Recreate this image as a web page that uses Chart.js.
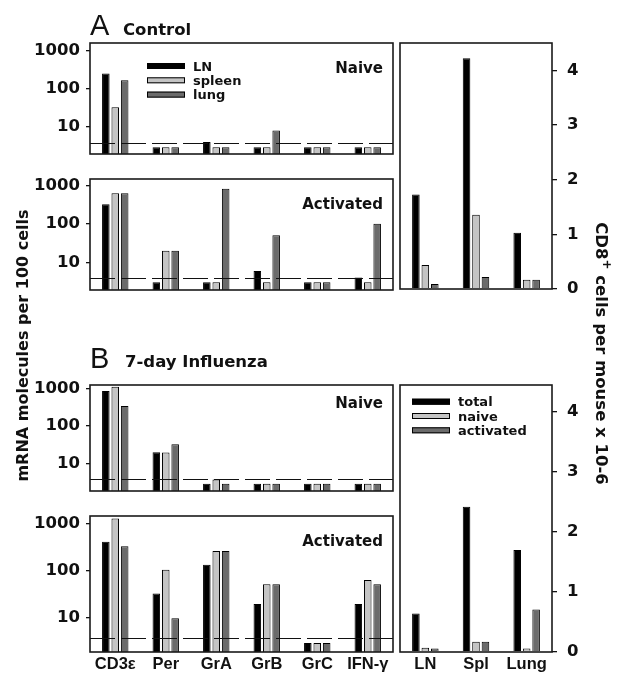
<!DOCTYPE html>
<html><head><meta charset="utf-8">
<script src="https://cdn.jsdelivr.net/npm/chart.js@4.4.0/dist/chart.umd.min.js"></script>
<style>
html,body{margin:0;padding:0;background:#fff;}
#wrap{position:relative;width:617px;height:677px;overflow:hidden;background:#fff;}
canvas{position:absolute;left:0;top:0;}
</style></head><body><div id="wrap">
<canvas id="c1" width="617" height="677"></canvas>
<canvas id="c2" width="617" height="677"></canvas>
<canvas id="c3" width="617" height="677"></canvas>
<canvas id="c4" width="617" height="677"></canvas>
<canvas id="c5" width="617" height="677"></canvas>
<canvas id="c6" width="617" height="677"></canvas>
</div>
<script>
// ---------- data ----------
const genes = ['CD3ε', 'Per', 'GrA', 'GrB', 'GrC', 'IFN-γ'];
const tissues = ['LN', 'Spl', 'Lung'];
const mrnaSeries = ['LN', 'spleen', 'lung'];
const cellSeries = ['total', 'naive', 'activated'];

// A: Control, mRNA molecules per 100 cells
const ctrlNaiveLN     = [250, 3, 4.1, 3, 3, 3];
const ctrlNaiveSpleen = [33, 3, 3, 3, 3, 3];
const ctrlNaiveLung   = [165, 3, 3, 8.2, 3, 3];
const ctrlActLN       = [320, 3, 3, 5.9, 3, 4];
const ctrlActSpleen   = [620, 20, 3, 3, 3, 3];
const ctrlActLung     = [620, 20, 810, 50, 3, 100];
// B: 7-day Influenza
const fluNaiveLN      = [850, 20.5, 3, 3, 3, 3];
const fluNaiveSpleen  = [1090, 20, 3.9, 3, 3, 3];
const fluNaiveLung    = [340, 33, 3, 3, 3, 3];
const fluActLN        = [410, 33, 134, 20, 3, 20];
const fluActSpleen    = [1270, 105, 260, 52, 3, 64];
const fluActLung      = [330, 10, 260, 52, 3, 52];
// CD8+ cells per mouse x 10-6
const ctrlCellsTotal  = [1.73, 4.22, 1.03];
const ctrlCellsNaive  = [0.44, 1.36, 0.17];
const ctrlCellsAct    = [0.09, 0.22, 0.17];
const fluCellsTotal   = [0.64, 2.42, 1.70];
const fluCellsNaive   = [0.07, 0.17, 0.06];
const fluCellsAct     = [0.06, 0.17, 0.71];

const logTicks = [10, 100, 1000];
const cellTicks = [0, 1, 2, 3, 4];
const detectionLimit = 3.9;

// ---------- styling ----------
const W = 617, H = 677;
const barColors = ['#000000', '#c4c4c4', '#6b6b6b'];
const FONT_TICK = {family: 'DejaVu Sans', weight: 'bold', size: 16.5};
const FONT_CAT = {family: 'Liberation Sans', weight: 'bold', size: 16.5};

const panelCfg = {};

const panelPlugin = {
  id: 'panelDeco',
  afterDatasetsDraw(chart) {
    const cfg = panelCfg[chart.canvas.id] || {};
    const ctx = chart.ctx, a = chart.chartArea;
    ctx.save();
    if (cfg.dash) {
      const y = Math.round(chart.scales.y.getPixelForValue(cfg.dash)) + 0.5;
      ctx.beginPath();
      ctx.setLineDash([25, 6]);
      ctx.lineWidth = 1.2;
      ctx.strokeStyle = '#111';
      ctx.moveTo(a.left, y); ctx.lineTo(a.right, y);
      ctx.stroke();
      ctx.setLineDash([]);
    }
    ctx.lineWidth = 1.6;
    ctx.strokeStyle = '#1a1a1a';
    ctx.strokeRect(a.left, a.top, a.right - a.left, a.bottom - a.top);
    ctx.fillStyle = '#111';
    if (cfg.label) {
      ctx.font = 'bold 15px "DejaVu Sans"';
      ctx.textAlign = 'right';
      ctx.textBaseline = 'alphabetic';
      ctx.fillText(cfg.label, a.right - 10, a.top + cfg.labelDy);
    }
    if (cfg.legend) {
      const L = cfg.legend;
      chart.data.datasets.forEach((ds, i) => {
        const cy = L.y + i * 14.3;
        ctx.fillStyle = ds.backgroundColor;
        ctx.fillRect(L.x, cy - 3, 38, 6);
        ctx.lineWidth = 1;
        ctx.strokeStyle = '#000';
        ctx.strokeRect(L.x + 0.5, cy - 3 + 0.5, 37, 5);
        ctx.fillStyle = '#111';
        ctx.font = 'bold 13px "DejaVu Sans"';
        ctx.textAlign = 'left';
        ctx.textBaseline = 'alphabetic';
        ctx.fillText(ds.label, L.x + 46, cy + 4.5);
      });
    }
    if (cfg.headings) drawHeadings(ctx);
    ctx.restore();
  }
};

function drawHeadings(ctx) {
  ctx.fillStyle = '#111';
  ctx.textBaseline = 'alphabetic';
  ctx.textAlign = 'left';
  ctx.font = '29px "Liberation Sans"';
  ctx.fillText('A', 90, 35);
  ctx.fillText('B', 90, 368);
  ctx.font = 'bold 16.5px "DejaVu Sans"';
  ctx.fillText('Control', 123, 35);
  ctx.fillText('7-day Influenza', 125, 367);

  // left axis title
  ctx.save();
  ctx.translate(28, 345.5);
  ctx.rotate(-Math.PI / 2);
  ctx.textAlign = 'center';
  ctx.font = 'bold 16px "DejaVu Sans"';
  ctx.fillText('mRNA molecules per 100 cells', 0, 0);
  ctx.restore();

  // right axis title with superscript
  ctx.save();
  ctx.translate(596, 353.5);
  ctx.rotate(Math.PI / 2);
  ctx.textAlign = 'left';
  const fMain = 'bold 16.5px "DejaVu Sans"', fSup = 'bold 12px "DejaVu Sans"';
  const t1 = 'CD8', t2 = '+', t3 = ' cells per mouse x 10-6';
  ctx.font = fMain; const w1 = ctx.measureText(t1).width, w3 = ctx.measureText(t3).width;
  ctx.font = fSup; const w2 = ctx.measureText(t2).width;
  let x = -(w1 + w2 + w3) / 2;
  ctx.font = fMain; ctx.fillText(t1, x, 0); x += w1;
  ctx.font = fSup; ctx.fillText(t2, x, -7); x += w2;
  ctx.font = fMain; ctx.fillText(t3, x, 0);
  ctx.restore();
}

function makeSets(names, arrays) {
  return arrays.map((d, i) => ({
    label: names[i], data: d,
    backgroundColor: barColors[i], borderColor: '#000', borderWidth: 1,
    categoryPercentage: 0.56, barPercentage: 0.8
  }));
}

function leftChart(id, area, yMin, yMax, arrays, showX) {
  const X_H = 25, Y_W = 60;
  return new Chart(document.getElementById(id), {
    type: 'bar',
    data: {labels: genes, datasets: makeSets(mrnaSeries, arrays)},
    options: {
      responsive: false, animation: false, devicePixelRatio: 1,
      layout: {padding: {left: area.left - Y_W, right: W - area.right, top: area.top,
                         bottom: H - area.bottom - (showX ? X_H : 0)}},
      plugins: {legend: {display: false}, tooltip: {enabled: false}},
      scales: {
        x: {display: showX, grid: {display: false}, border: {display: false},
            ticks: {font: FONT_CAT, color: '#111', padding: -5, maxRotation: 0, autoSkip: false},
            afterFit(s) { s.height = X_H; }},
        y: {type: 'logarithmic', min: yMin, max: yMax, position: 'left',
            grid: {drawOnChartArea: false, drawTicks: true, tickLength: 4, color: '#111', lineWidth: 1.3},
            border: {display: false},
            ticks: {font: FONT_TICK, color: '#111', padding: 6, callback: v => String(v)},
            afterBuildTicks(s) { s.ticks = logTicks.map(v => ({value: v})); },
            afterFit(s) { s.width = Y_W; }}
      }
    },
    plugins: [panelPlugin]
  });
}

function rightChart(id, area, yMax, arrays, showX) {
  const X_H = 25, Y_W = 50;
  return new Chart(document.getElementById(id), {
    type: 'bar',
    data: {labels: tissues, datasets: makeSets(cellSeries, arrays)},
    options: {
      responsive: false, animation: false, devicePixelRatio: 1,
      layout: {padding: {left: area.left, right: W - area.right - Y_W, top: area.top,
                         bottom: H - area.bottom - (showX ? X_H : 0)}},
      plugins: {legend: {display: false}, tooltip: {enabled: false}},
      scales: {
        x: {display: showX, grid: {display: false}, border: {display: false},
            ticks: {font: FONT_CAT, color: '#111', padding: -5, maxRotation: 0, autoSkip: false},
            afterFit(s) { s.height = X_H; }},
        y: {type: 'linear', min: 0, max: yMax, position: 'right',
            grid: {drawOnChartArea: false, drawTicks: true, tickLength: 5, color: '#111', lineWidth: 1.3},
            border: {display: false},
            ticks: {font: FONT_TICK, color: '#111', padding: 10, callback: v => String(v)},
            afterBuildTicks(s) { s.ticks = cellTicks.map(v => ({value: v})); },
            afterFit(s) { s.width = Y_W; }}
      }
    },
    plugins: [panelPlugin]
  });
}

panelCfg.c1 = {dash: detectionLimit, label: 'Naive', labelDy: 30, headings: true, legend: {x: 147, y: 66}};
panelCfg.c2 = {dash: detectionLimit, label: 'Activated', labelDy: 30};
panelCfg.c3 = {dash: detectionLimit, label: 'Naive', labelDy: 22.5};
panelCfg.c4 = {dash: detectionLimit, label: 'Activated', labelDy: 29.5};
panelCfg.c5 = {};
panelCfg.c6 = {legend: {x: 412, y: 401.7}};

leftChart('c1', {left: 90, right: 393, top: 43, bottom: 179}, 2, 1550,
          [ctrlNaiveLN, ctrlNaiveSpleen, ctrlNaiveLung], false);
leftChart('c2', {left: 90, right: 393, top: 179, bottom: 315}, 1.9, 1460,
          [ctrlActLN, ctrlActSpleen, ctrlActLung], false);
leftChart('c3', {left: 90, right: 393, top: 385, bottom: 516}, 1.93, 1220,
          [fluNaiveLN, fluNaiveSpleen, fluNaiveLung], false);
leftChart('c4', {left: 90, right: 393, top: 516, bottom: 652}, 1.93, 1430,
          [fluActLN, fluActSpleen, fluActLung], true);
rightChart('c5', {left: 400, right: 552, top: 43, bottom: 314}, 4.5,
           [ctrlCellsTotal, ctrlCellsNaive, ctrlCellsAct], false);
rightChart('c6', {left: 400, right: 552, top: 385, bottom: 652}, 4.45,
           [fluCellsTotal, fluCellsNaive, fluCellsAct], true);
</script>
</body></html>
